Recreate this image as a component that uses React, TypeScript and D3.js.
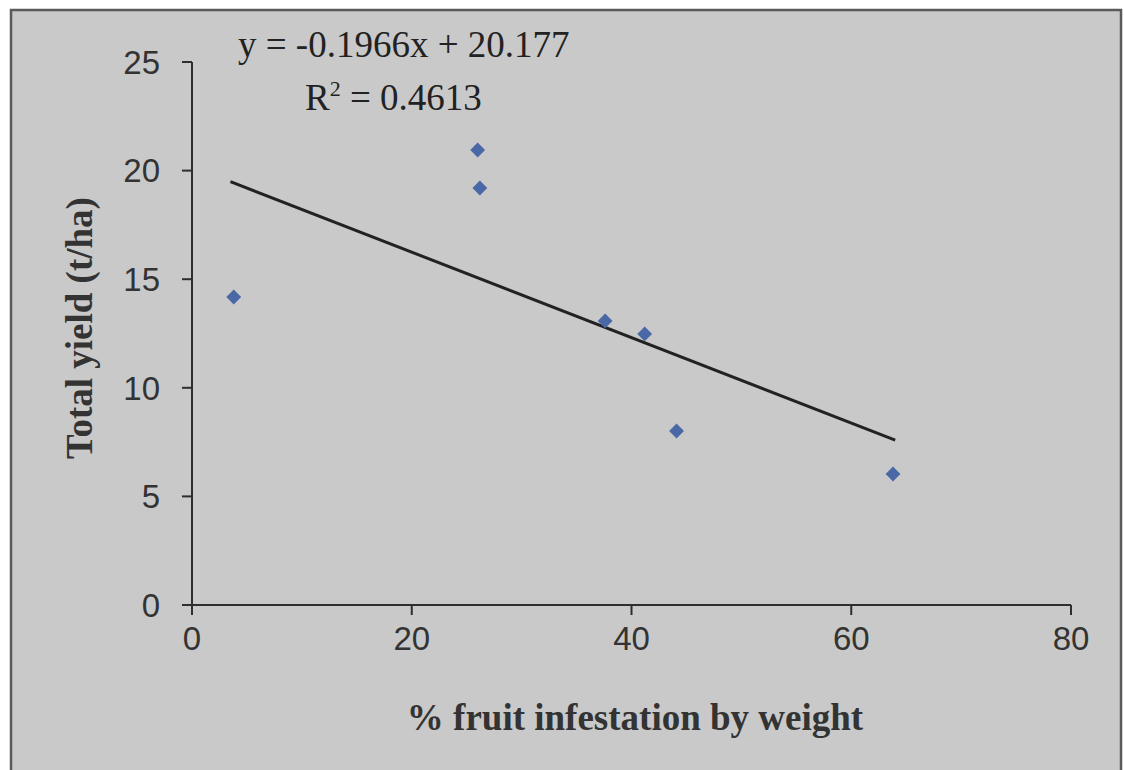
import React from "react";
import * as d3 from "d3";

const infestation = [3.8, 26.0, 26.2, 37.6, 41.2, 44.1, 63.8];
const yieldValues = [14.18, 20.95, 19.2, 13.08, 12.48, 8.01, 6.03];
const xTicks = [0, 20, 40, 60, 80];
const yTicks = [0, 5, 10, 15, 20, 25];
const slope = -0.1966;
const intercept = 20.177;
const trendRange = [3.5, 64];
const equationText = "y = -0.1966x + 20.177";
const r2Value = "0.4613";
const xTitle = "% fruit infestation by weight";
const yTitle = "Total yield (t/ha)";

export default function App() {
  const W = 1124, H = 770;
  const x = d3.scaleLinear().domain([0, 80]).range([192, 1071]);
  const y = d3.scaleLinear().domain([0, 25]).range([605, 62]);
  const line = d3.line<number>().x(d => x(d)).y(d => y(slope * d + intercept));
  const diamond = d3.symbol().type(d3.symbolDiamond2).size(140)() as string;
  const axisColor = "#2e2e2e";
  const sans = "'Liberation Sans', Arial, sans-serif";
  const serif = "'Liberation Serif', 'Times New Roman', serif";

  return (
    <svg width={W} height={H} style={{ position: "absolute", left: 0, top: 0 }}>
      <rect x={0} y={0} width={W} height={H} fill="#ffffff" />
      <rect x={11} y={10} width={1110} height={H} fill="#c9c9c9" stroke="#5a5a5a" strokeWidth={2.5} />
      {/* axes */}
      <line x1={x(0)} x2={x(0)} y1={y(25)} y2={y(0) + 10} stroke={axisColor} strokeWidth={2} />
      <line x1={x(0) - 10} x2={x(80)} y1={y(0)} y2={y(0)} stroke={axisColor} strokeWidth={2} />
      {yTicks.map(t => (
        <g key={"y" + t}>
          <line x1={x(0) - 10} x2={x(0)} y1={y(t)} y2={y(t)} stroke={axisColor} strokeWidth={2} />
          <text x={x(0) - 32} y={y(t)} dy="0.36em" textAnchor="end" fontFamily={sans} fontSize={33} fill="#333">{t}</text>
        </g>
      ))}
      {xTicks.map(t => (
        <g key={"x" + t}>
          <line x1={x(t)} x2={x(t)} y1={y(0)} y2={y(0) + 10} stroke={axisColor} strokeWidth={2} />
          <text x={x(t)} y={y(0) + 45} textAnchor="middle" fontFamily={sans} fontSize={33} fill="#333">{t}</text>
        </g>
      ))}
      {/* trend line */}
      <path d={line(trendRange) as string} fill="none" stroke="#222" strokeWidth={3} />
      {/* points */}
      {infestation.map((v, i) => (
        <path key={i} d={diamond} transform={`translate(${x(v)},${y(yieldValues[i])})`} fill="#4a68a6" />
      ))}
      {/* equation */}
      <text x={238} y={57} fontFamily={serif} fontSize={37} fill="#222">{equationText}</text>
      <text x={305} y={110} fontFamily={serif} fontSize={37} fill="#222">
        R<tspan dy={-14} fontSize={22}>2</tspan><tspan dy={14}>{" = " + r2Value}</tspan>
      </text>
      {/* axis titles */}
      <text x={635} y={730} textAnchor="middle" fontFamily={serif} fontWeight="bold" fontSize={37} fill="#333">{xTitle}</text>
      <text transform={`translate(92,328) rotate(-90)`} textAnchor="middle" fontFamily={serif} fontWeight="bold" fontSize={37} fill="#333">{yTitle}</text>
    </svg>
  );
}
